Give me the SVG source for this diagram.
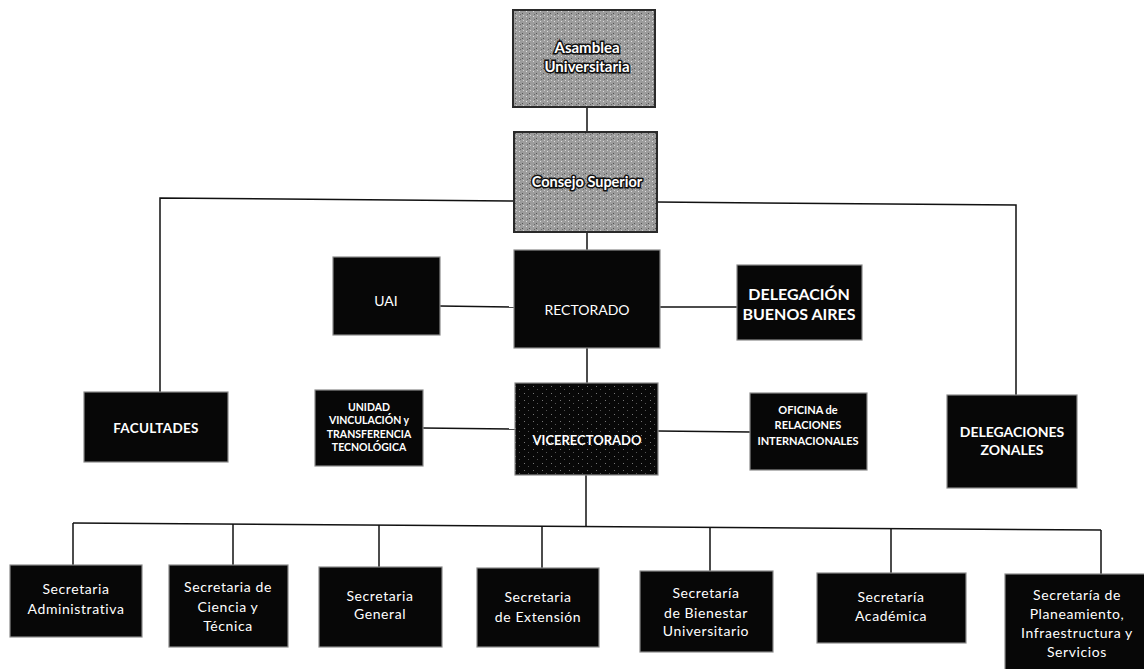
<svg xmlns="http://www.w3.org/2000/svg" width="1144" height="669" viewBox="0 0 1144 669">
<defs>
<pattern id="speck" width="7" height="5" patternUnits="userSpaceOnUse">
<rect width="7" height="5" fill="#9c9c9c"/>
<rect x="1" y="1" width="1" height="1" fill="#e0e0e0"/>
<rect x="4" y="3" width="1" height="1" fill="#555"/>
<rect x="5" y="0" width="1" height="1" fill="#d0d0d0"/>
<rect x="2" y="4" width="1" height="1" fill="#6a6a6a"/>
</pattern>
<pattern id="vspeck" width="9" height="7" patternUnits="userSpaceOnUse">
<rect width="9" height="7" fill="#080808"/>
<rect x="2" y="1" width="1" height="1" fill="#777"/>
<rect x="6" y="4" width="1" height="1" fill="#555"/>
</pattern>
</defs>
<style>
.dk{fill:#070707;stroke:#8a8a8a;stroke-width:1.2}
.gr{fill:url(#speck);stroke:#2a2a2a;stroke-width:2}
.t{font-family:Lato,"Open Sans","Liberation Sans",sans-serif;fill:#fff;text-anchor:middle}
.b{font-weight:bold}
.s{font-size:14px;letter-spacing:0.6px}
.ot{font-family:Lato,"Open Sans","Liberation Sans",sans-serif;font-weight:bold;fill:#fff;stroke:#111;stroke-width:3;paint-order:stroke;text-anchor:middle}
.c{stroke:#111;stroke-width:1.5;fill:none}
</style>
<rect width="1144" height="669" fill="#fff"/>
<g id="connectors">
<line class="c" x1="587" y1="107" x2="587" y2="132"/>
<polyline class="c" points="515,201 160,198 160,392"/>
<polyline class="c" points="657,202 1016,205 1016,395"/>
<line class="c" x1="587" y1="232" x2="587" y2="250"/>
<line class="c" x1="440" y1="306" x2="515" y2="307"/>
<line class="c" x1="660" y1="307" x2="737" y2="307"/>
<line class="c" x1="587" y1="348" x2="587" y2="383"/>
<line class="c" x1="423" y1="428" x2="516" y2="429"/>
<line class="c" x1="658" y1="431" x2="750" y2="432"/>
<line class="c" x1="586" y1="475" x2="586" y2="526"/>
<line class="c" x1="73" y1="523" x2="1101" y2="530"/>
<line class="c" x1="73" y1="523" x2="73" y2="565"/>
<line class="c" x1="233" y1="524" x2="233" y2="565"/>
<line class="c" x1="379" y1="525" x2="379" y2="567"/>
<line class="c" x1="542" y1="526" x2="542" y2="568"/>
<line class="c" x1="710" y1="527" x2="710" y2="571"/>
<line class="c" x1="891" y1="528" x2="891" y2="573"/>
<line class="c" x1="1101" y1="530" x2="1101" y2="574"/>
</g>
<g id="asamblea">
<rect class="gr" x="513" y="10" width="142" height="97"/>
<text class="ot" x="587" y="53" font-size="15">Asamblea</text>
<text class="ot" x="587" y="72" font-size="15">Universitaria</text>
</g>
<g id="consejo">
<rect class="gr" x="514" y="132" width="143" height="100"/>
<text class="ot" x="587" y="187" font-size="14.5">Consejo Superior</text>
</g>
<g id="uai">
<rect class="dk" x="333" y="257" width="107" height="78"/>
<text class="t" x="386" y="306" font-size="14">UAI</text>
</g>
<g id="rectorado">
<rect class="dk" x="514" y="250" width="146" height="98"/>
<text class="t" x="587" y="315" font-size="14">RECTORADO</text>
</g>
<g id="delegacion-ba">
<rect class="dk" x="737" y="265" width="125" height="75"/>
<text class="t b" x="799" y="300" font-size="16">DELEGACIÓN</text>
<text class="t b" x="799" y="320" font-size="16">BUENOS AIRES</text>
</g>
<g id="facultades">
<rect class="dk" x="84" y="392" width="144" height="70"/>
<text class="t b" x="156" y="433" font-size="13.5" letter-spacing="0.3">FACULTADES</text>
</g>
<g id="uvtt">
<rect class="dk" x="315" y="390" width="108" height="76"/>
<text class="t b" x="369" y="411" font-size="10.5">UNIDAD</text>
<text class="t b" x="369" y="424" font-size="10.5">VINCULACIÓN y</text>
<text class="t b" x="369" y="438" font-size="10.5">TRANSFERENCIA</text>
<text class="t b" x="369" y="451" font-size="10.5">TECNOLÓGICA</text>
</g>
<g id="vicerectorado">
<rect x="515" y="383" width="143" height="92" fill="url(#vspeck)" stroke="#8a8a8a" stroke-width="1.2"/>
<text class="t b" x="587" y="445" font-size="13">VICERECTORADO</text>
</g>
<g id="oficina-ri">
<rect class="dk" x="750" y="393" width="117" height="77"/>
<text class="t b" x="808" y="414" font-size="11">OFICINA de</text>
<text class="t b" x="808" y="429" font-size="11">RELACIONES</text>
<text class="t b" x="808" y="445" font-size="11">INTERNACIONALES</text>
</g>
<g id="delegaciones-zonales">
<rect class="dk" x="947" y="395" width="130" height="93"/>
<text class="t b" x="1012" y="437" font-size="14">DELEGACIONES</text>
<text class="t b" x="1012" y="455" font-size="14">ZONALES</text>
</g>
<g id="sec-admin">
<rect class="dk" x="10" y="565" width="132" height="72"/>
<text class="t s" x="76" y="594">Secretaria</text>
<text class="t s" x="76" y="614">Administrativa</text>
</g>
<g id="sec-ciencia">
<rect class="dk" x="169" y="565" width="119" height="82"/>
<text class="t s" x="228" y="592">Secretaria de</text>
<text class="t s" x="228" y="612">Ciencia y</text>
<text class="t s" x="228" y="631">Técnica</text>
</g>
<g id="sec-general">
<rect class="dk" x="319" y="567" width="123" height="80"/>
<text class="t s" x="380" y="601">Secretaria</text>
<text class="t s" x="380" y="619">General</text>
</g>
<g id="sec-extension">
<rect class="dk" x="477" y="568" width="122" height="79"/>
<text class="t s" x="538" y="602">Secretaria</text>
<text class="t s" x="538" y="622">de Extensión</text>
</g>
<g id="sec-bienestar">
<rect class="dk" x="640" y="571" width="133" height="81"/>
<text class="t s" x="706" y="598">Secretaría</text>
<text class="t s" x="706" y="618">de Bienestar</text>
<text class="t s" x="706" y="636">Universitario</text>
</g>
<g id="sec-academica">
<rect class="dk" x="817" y="573" width="149" height="70"/>
<text class="t s" x="891" y="602">Secretaría</text>
<text class="t s" x="891" y="621">Académica</text>
</g>
<g id="sec-planeamiento">
<rect class="dk" x="1005" y="574" width="140" height="96"/>
<text class="t s" x="1077" y="600" letter-spacing="0.3">Secretaría de</text>
<text class="t s" x="1077" y="619" letter-spacing="0.3">Planeamiento,</text>
<text class="t s" x="1077" y="638" letter-spacing="0.3">Infraestructura y</text>
<text class="t s" x="1077" y="657" letter-spacing="0.3">Servicios</text>
</g>
</svg>
